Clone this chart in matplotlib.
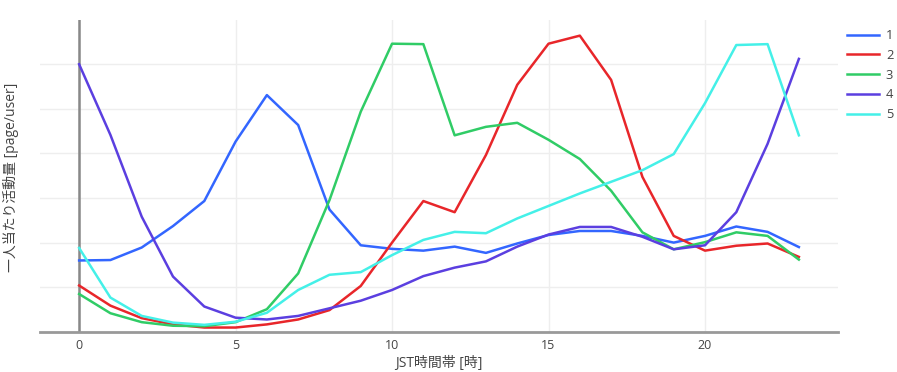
import matplotlib.pyplot as plt

plt.rcParams['font.family'] = ['Open Sans', 'Noto Sans CJK JP', 'DejaVu Sans']

# --- DONNEES ---
heures = list(range(24))
serie_1 = [1.60, 1.61, 1.89, 2.37, 2.93, 4.26, 5.30, 4.63, 2.74, 1.94, 1.86, 1.82,
           1.91, 1.77, 1.98, 2.17, 2.26, 2.26, 2.15, 2.00, 2.15, 2.36, 2.24, 1.90]
serie_2 = [1.04, 0.59, 0.31, 0.17, 0.10, 0.10, 0.17, 0.28, 0.49, 1.03, 2.00, 2.93,
           2.68, 3.96, 5.53, 6.45, 6.63, 5.64, 3.47, 2.15, 1.82, 1.93, 1.98, 1.68]
serie_3 = [0.85, 0.42, 0.22, 0.14, 0.13, 0.22, 0.51, 1.31, 2.95, 4.93, 6.45, 6.44,
           4.40, 4.59, 4.68, 4.30, 3.87, 3.16, 2.23, 1.85, 2.01, 2.23, 2.15, 1.62]
serie_4 = [5.99, 4.41, 2.58, 1.24, 0.57, 0.32, 0.28, 0.36, 0.53, 0.70, 0.94, 1.25,
           1.44, 1.58, 1.91, 2.18, 2.35, 2.35, 2.13, 1.85, 1.94, 2.68, 4.21, 6.11]
serie_5 = [1.88, 0.77, 0.36, 0.21, 0.16, 0.23, 0.43, 0.94, 1.28, 1.34, 1.72, 2.06,
           2.24, 2.21, 2.54, 2.82, 3.10, 3.36, 3.62, 3.98, 5.12, 6.42, 6.44, 4.40]

series = [serie_1, serie_2, serie_3, serie_4, serie_5]
noms = ["1", "2", "3", "4", "5"]
couleurs = ['#3366FF', '#E8262A', '#30CC66', '#5B3FE0', '#44F0E8']

# --- GRAPHIQUE ---
fig = plt.figure(figsize=(8.97, 3.72), dpi=100)
ax = fig.add_axes([40 / 897, 40 / 372, 798 / 897, 312 / 372])

for valeurs, nom, c in zip(series, noms, couleurs):
    ax.plot(heures, valeurs, color=c, linewidth=1.8, label=nom, zorder=3)

ax.set_xlim(-1.25, 24.25)
ax.set_ylim(0, 6.98)
ax.set_xticks([0, 5, 10, 15, 20])
ax.set_yticks([1, 2, 3, 4, 5, 6])
ax.set_yticklabels([])
ax.tick_params(axis='both', length=0, labelsize=9, colors='#444444')
ax.tick_params(axis='x', pad=5)
ax.grid(True, color='#EEEEEE', linewidth=1)
ax.set_axisbelow(True)

for s in ['top', 'right', 'left']:
    ax.spines[s].set_visible(False)
ax.spines['bottom'].set_color('#999999')
ax.spines['bottom'].set_linewidth(2)
ax.axvline(0, color='#888888', linewidth=1.8, zorder=2)

# titres des axes places a la main pour rester dans la figure
fig.text(439 / 897, 1 - 363 / 372, "JST時間帯 [時]", fontsize=10, color='#444444',
         ha='center', va='center')
fig.text(11 / 897, 1 - 177 / 372, "一人当たり活動量 [page/user]", fontsize=10,
         color='#444444', ha='center', va='center', rotation=90)

fig.legend(loc='upper left', bbox_to_anchor=(842 / 897, 1 - 24 / 372), frameon=False,
           fontsize=9.3, handlelength=2.5, handletextpad=0.5, labelspacing=0.52,
           labelcolor='#444444', borderaxespad=0)

fig.savefig("out.png", dpi=100)
